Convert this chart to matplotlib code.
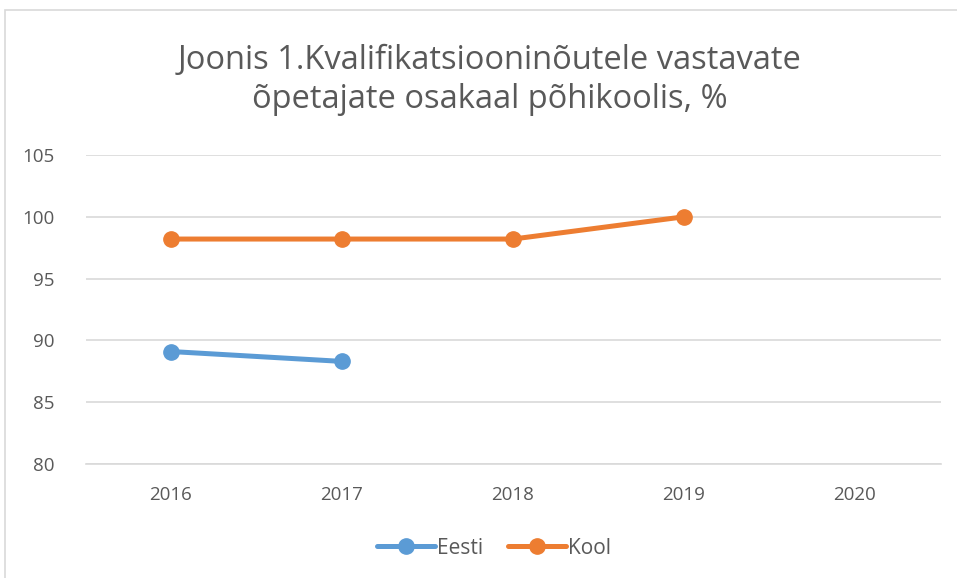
import matplotlib
matplotlib.use("Agg")
import matplotlib.pyplot as plt
from matplotlib.patches import Rectangle

years = ["2016", "2017", "2018", "2019", "2020"]
eesti = [89.1, 88.3, None, None, None]
kool = [98.2, 98.2, 98.2, 100.0, None]
yticks = [80, 85, 90, 95, 100, 105]

W, H = 957, 578
fig = plt.figure(figsize=(W/100, H/100), dpi=100)
plt.rcParams['font.family'] = ['Open Sans', 'DejaVu Sans']

# chart border
fig.patches.append(Rectangle((5/W, -0.1), 1.0, 1.1 - 10/H, transform=fig.transFigure,
                             fill=False, edgecolor='#d9d9d9', linewidth=1.2, clip_on=False))

ax = fig.add_axes([85.5/W, 114/H, 855/W, 309/H])
x = list(range(len(years)))

def xy(vals):
    xs = [i for i, v in enumerate(vals) if v is not None]
    ys = [v for v in vals if v is not None]
    return xs, ys

ex, ey = xy(eesti)
kx, ky = xy(kool)
ax.plot(ex, ey, color='#5b9bd5', linewidth=3.6, marker='o', markersize=11,
        solid_capstyle='round', label='Eesti', zorder=3)
ax.plot(kx, ky, color='#ed7d31', linewidth=3.6, marker='o', markersize=11,
        solid_capstyle='round', label='Kool', zorder=3)

ax.set_xlim(-0.5, len(years) - 0.5)
ax.set_ylim(80, 105)
ax.set_yticks(yticks)
ax.set_xticks(x)
ax.set_xticklabels(years)
ax.grid(axis='y', color='#d9d9d9', linewidth=1.2)
ax.set_axisbelow(True)
for s in ['top', 'right', 'left']:
    ax.spines[s].set_visible(False)
ax.spines['bottom'].set_color('#d9d9d9')
ax.spines['bottom'].set_linewidth(1.2)
ax.tick_params(axis='both', length=0, colors='#595959', labelsize=13.5)
ax.tick_params(axis='x', pad=16)
ax.tick_params(axis='y', pad=22)

fig.text(490/W, 1 - 80/H, "Joonis 1.Kvalifikatsiooninõutele vastavate\nõpetajate osakaal põhikoolis, %",
         ha='center', va='center', fontsize=23.5, color='#595959', linespacing=1.22,
         fontweight='normal')

leg = fig.legend(loc='center', bbox_to_anchor=(494/W, 1 - 548/H), ncol=2, frameon=False,
                 fontsize=15, labelcolor='#595959', handlelength=2.8, handletextpad=0.1,
                 columnspacing=1.2)

fig.savefig("out.png", dpi=100)
